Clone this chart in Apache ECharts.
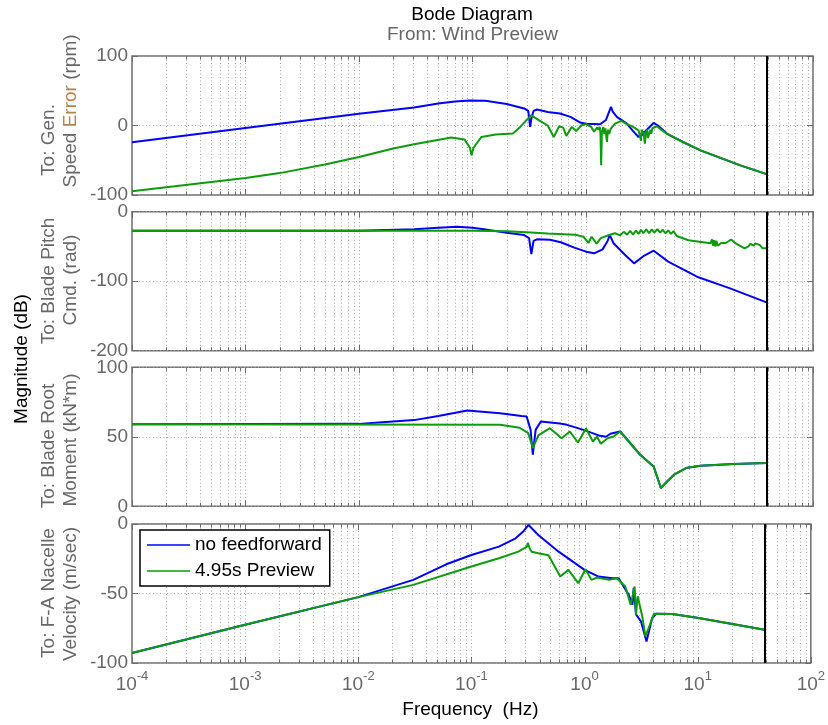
<!DOCTYPE html>
<html><head><meta charset="utf-8">
<script src="https://cdn.jsdelivr.net/npm/echarts@6/dist/echarts.min.js"></script>
<style>html,body{margin:0;padding:0;background:#fff}#chart{width:828px;height:725px}</style>
</head><body><div id="chart"></div>
<script>
// ---------------- data (frequency in Hz, magnitude in dB) ----------------
const seriesNames = ['no feedforward', '4.95s Preview'];
const nyquistHz = 39;
const freqDecades = [-4, -3, -2, -1, 0, 1, 2];

const genSpeedNoFF = [[1e-4,-24],[1e-3,-3.5],[1e-2,17],[0.0306,26],[0.05,31.5],[0.07,34.5],[0.094,36],[0.13,35.5],[0.2,31],[0.285,24.5],[0.31,21],[0.322,-2],[0.33,10],[0.345,21],[0.37,23],[0.46,19.5],[0.59,17.2],[0.73,12.4],[0.89,4.2],[1.0,2.5],[1.33,1.8],[1.5,8],[1.66,26.8],[1.72,20],[1.87,12.4],[2.29,2.8],[2.6,-8],[2.9,-16.5],[3.1,-14],[3.4,-6.9],[3.94,3.7],[4.3,0],[5.16,-11.6],[7,-23],[10.2,-35.7],[22.9,-57.4],[39,-70]];
const genSpeedFF = [[1e-4,-94.5],[1e-3,-75.7],[2e-3,-68.5],[5e-3,-56],[1e-2,-45.4],[0.02,-33],[0.0306,-27],[0.065,-17.4],[0.085,-20],[0.095,-32],[0.098,-43],[0.102,-32],[0.12,-16.5],[0.16,-13],[0.227,-11.6],[0.26,-3],[0.3,8],[0.33,14.8],[0.38,8],[0.46,0],[0.52,-16.5],[0.58,-1],[0.63,-3],[0.67,-15],[0.75,-2],[0.82,-8],[0.91,0.4],[1.0,2],[1.11,-2],[1.18,-9],[1.25,-3],[1.29,-6],[1.32,-2],[1.34,-10],[1.36,-57],[1.38,-10],[1.42,-2],[1.45,-12],[1.48,-4],[1.53,-23.7],[1.56,-6],[1.6,-12],[1.65,-4.9],[1.8,2.8],[2.05,6.6],[2.25,2.8],[2.6,-2],[2.9,-6.9],[3.0,-16],[3.05,-22],[3.1,-6],[3.15,-12],[3.2,-8],[3.3,-26],[3.38,-10],[3.45,-6],[3.52,-18],[3.6,-20],[3.68,-6],[3.75,-12],[3.85,-4],[4.2,-1.1],[5.16,-12],[7,-23],[10.2,-35.7],[22.9,-57.4],[39,-70]];

const pitchNoFF = [[1e-4,-27.3],[0.01,-27.3],[0.0306,-25.4],[0.05,-23],[0.073,-21.5],[0.1,-23],[0.126,-25.4],[0.2,-30.2],[0.285,-33.6],[0.315,-38],[0.33,-61],[0.345,-42],[0.37,-39.8],[0.48,-40.5],[0.6,-44],[0.8,-52],[1.0,-57.5],[1.18,-59.9],[1.4,-54.2],[1.55,-42],[1.62,-33.6],[1.75,-45.5],[2.2,-62],[2.65,-74.3],[3.2,-64],[3.95,-56.1],[5.3,-71.9],[9.5,-93.5],[18.6,-110.3],[39,-130.4]];
const pitchFF = [[1e-4,-27.3],[0.1,-27.3],[0.2,-28.2],[0.3,-29.5],[0.46,-31.2],[0.8,-33],[0.95,-36],[1.05,-45],[1.12,-36],[1.24,-46],[1.35,-38],[1.6,-33.6],[1.8,-31],[2.0,-34],[2.15,-29],[2.3,-33],[2.45,-27.5],[2.6,-33],[2.75,-27],[2.9,-32],[3.05,-26],[3.2,-31],[3.4,-25.5],[3.6,-31],[3.8,-25.5],[4.0,-30],[4.25,-25],[4.5,-30],[4.75,-26],[5.0,-31],[5.3,-27],[5.6,-32],[5.9,-28],[6.3,-35],[8,-41],[10,-43.1],[12.5,-45.5],[12.9,-40],[13.2,-49],[13.5,-41],[13.8,-50],[14.1,-42],[14.5,-49],[15.5,-45],[17,-45],[19,-40],[21,-46],[25,-52.7],[27,-50],[28,-46],[30,-49],[31,-45.5],[34,-48],[36,-52.7],[39,-52.7]];

const momentNoFF = [[1e-4,59.1],[0.01,59.3],[0.016,60.5],[0.0306,62],[0.05,65],[0.09,68.9],[0.175,67],[0.27,65],[0.3,64.6],[0.325,55],[0.34,37.1],[0.36,55],[0.4,61],[0.59,59.5],[0.68,58.6],[0.95,55],[1.33,50.7],[1.5,50],[1.64,52.2],[2.0,53.8],[3.0,37.1],[3.94,28.7],[4.57,13.2],[5.2,18],[5.97,22.7],[7.6,27.5],[10.2,29.2],[20,30.5],[39,31.1]];
const momentFF = [[1e-4,59.1],[0.175,58.6],[0.26,56.5],[0.31,52.6],[0.34,41.9],[0.38,51],[0.48,56.2],[0.61,49],[0.72,53.8],[0.85,45.9],[1.0,56],[1.15,46.6],[1.25,50.2],[1.35,45],[1.55,49],[1.75,50.2],[2.0,53.8],[3.0,37.1],[3.94,28.7],[4.57,13.2],[5.2,18],[5.97,22.7],[7.6,27.5],[10.2,29.2],[20,30.5],[39,31.1]];

const nacelleNoFF = [[1e-4,-92.8],[1e-3,-72.5],[1e-2,-52.6],[0.0306,-40.2],[0.06,-29],[0.1,-22.3],[0.175,-16.3],[0.246,-10.3],[0.29,-5],[0.32,-0.7],[0.35,-4],[0.39,-7.9],[0.59,-19.9],[1.0,-33],[1.33,-37.8],[1.75,-39],[2.0,-39],[2.46,-51],[2.65,-58],[2.72,-46],[2.85,-65],[3.15,-70],[3.53,-84.5],[3.96,-67.7],[4.3,-64.6],[5.97,-64.8],[10.2,-67.7],[39,-76]];
const nacelleFF = [[1e-4,-92.8],[1e-3,-72.5],[1e-2,-52.6],[0.0306,-43.8],[0.1,-30.6],[0.175,-24.6],[0.26,-19.9],[0.31,-16.3],[0.315,-13.5],[0.325,-17],[0.34,-19.9],[0.39,-21],[0.48,-22.5],[0.61,-37.8],[0.72,-33],[0.88,-42.6],[1.02,-32.5],[1.15,-40.2],[1.3,-38.5],[1.64,-40.2],[1.93,-39],[2.29,-45],[2.56,-58.2],[2.77,-45],[2.85,-65.3],[2.95,-52],[3.24,-66.5],[3.45,-80.9],[3.8,-72],[4.1,-64.6],[5.97,-64.8],[10.2,-67.7],[39,-76]];

const yMin = [-100, -200, 0, -100];
const yMax = [100, 0, 100, 0];
const yStep = [100, 100, 50, 50];
const panelLabels = [['To: Gen.', 'Speed Error (rpm)'], ['To: Blade Pitch', 'Cmd. (rad)'], ['To: Blade Root', 'Moment (kN*m)'], ['To: F-A Nacelle', 'Velocity (m/sec)']];
const titleText = 'Bode Diagram';
const subtitleText = 'From: Wind Preview';
const yTitle = 'Magnitude (dB)';
const xTitle = 'Frequency  (Hz)';

// ---------------- layout / style ----------------
const FONT = '"Liberation Sans", Arial, Helvetica, sans-serif';
const GRAY = '#686868';
const FRAME = '#6e6e6e';
const BLUE = '#0000ff';
const GREEN = '#0c9c0c';
const gridTops = [56, 211.7, 367.3, 524];
const gridH = 139;
const labelY = [[140, 111], [281, 280], [446, 440], [593, 594]];

const noFF = [genSpeedNoFF, pitchNoFF, momentNoFF, nacelleNoFF];
const withFF = [genSpeedFF, pitchFF, momentFF, nacelleFF];

const gridFreqs = [];
for (let i = 0; i < freqDecades.length - 1; i++) {
  for (let k = 1; k <= 9; k++) gridFreqs.push(k * Math.pow(10, freqDecades[i]));
}
gridFreqs.push(Math.pow(10, freqDecades[freqDecades.length - 1]));

function gridRender(params, api) {
  const cs = params.coordSys;
  const f = api.value(0);
  const x = Math.round(api.coord([f, api.value(1)])[0]) + 0.5;
  const lg = Math.log10(f);
  const major = Math.abs(lg - Math.round(lg)) < 1e-6;
  const top = cs.y, bot = cs.y + cs.height;
  const kids = [];
  if (x > cs.x + 2 && x < cs.x + cs.width - 2) {
    kids.push({type: 'line', shape: {x1: x, y1: top, x2: x, y2: bot},
      style: {stroke: '#a4a4a4', lineWidth: 1, lineDash: [1, 2.5]}});
  }
  const t = major ? 6 : 3.5;
  kids.push({type: 'line', shape: {x1: x, y1: top, x2: x, y2: top + t}, style: {stroke: FRAME, lineWidth: 1}});
  kids.push({type: 'line', shape: {x1: x, y1: bot, x2: x, y2: bot - t}, style: {stroke: FRAME, lineWidth: 1}});
  return {type: 'group', children: kids};
}

const grids = [], xAxes = [], yAxes = [], series = [];
for (let i = 0; i < 4; i++) {
  grids.push({left: 132, right: 15, top: gridTops[i], height: gridH, show: true,
    borderColor: FRAME, borderWidth: 1.5, backgroundColor: '#fff'});
  xAxes.push({type: 'log', logBase: 10, gridIndex: i, min: 1e-4, max: 100, splitNumber: 6,
    axisLine: {show: false}, axisTick: {show: false}, splitLine: {show: false},
    axisLabel: {show: i === 3, margin: 7, color: GRAY, showMinLabel: true, showMaxLabel: true, hideOverlap: false,
      formatter: v => '{b|10}{s|' + Math.round(Math.log10(v)) + '}',
      rich: {b: {fontSize: 19, fontFamily: FONT, color: GRAY, lineHeight: 30},
             s: {fontSize: 13, fontFamily: FONT, color: GRAY, lineHeight: 13, verticalAlign: 'top'}}}});
}
for (let i = 0; i < 4; i++) {
  yAxes.push({type: 'value', gridIndex: i, min: yMin[i], max: yMax[i], interval: yStep[i], position: 'left',
    axisLine: {show: false},
    axisTick: {show: true, inside: true, length: 6, lineStyle: {color: FRAME}},
    splitLine: {show: true, lineStyle: {color: '#a4a4a4', width: 1, type: [1, 2.5]}},
    axisLabel: {color: GRAY, fontSize: 19, fontFamily: FONT, margin: 4}});
}
for (let i = 0; i < 4; i++) {
  yAxes.push({type: 'value', gridIndex: i, min: yMin[i], max: yMax[i], interval: yStep[i], position: 'right',
    axisLine: {show: false}, axisLabel: {show: false}, splitLine: {show: false},
    axisTick: {show: true, inside: true, length: 6, lineStyle: {color: FRAME}}});
}
for (let i = 0; i < 4; i++) {
  series.push({type: 'custom', xAxisIndex: i, yAxisIndex: i, silent: true, z: 1,
    renderItem: gridRender, data: gridFreqs.map(f => [f, yMin[i]]), encode: {x: 0, y: 1}});
  series.push({type: 'line', name: seriesNames[0], xAxisIndex: i, yAxisIndex: i, data: noFF[i],
    symbol: 'none', smooth: false, z: 3, lineStyle: {color: BLUE, width: 2}, itemStyle: {color: BLUE}});
  series.push({type: 'line', name: seriesNames[1], xAxisIndex: i, yAxisIndex: i, data: withFF[i],
    symbol: 'none', smooth: false, z: 4, lineStyle: {color: GREEN, width: 2}, itemStyle: {color: GREEN},
    markLine: {silent: true, symbol: ['none', 'none'], label: {show: false}, animation: false,
      lineStyle: {color: '#000', width: 2, type: 'solid'}, data: [{xAxis: nyquistHz}]}});
}

const graphics = [
  {type: 'text', x: 472, y: 14.3, style: {text: titleText, fontSize: 19, fontFamily: FONT, fill: '#000', align: 'center', verticalAlign: 'middle'}},
  {type: 'text', x: 472.5, y: 35, style: {text: subtitleText, fontSize: 19, fontFamily: FONT, fill: GRAY, align: 'center', verticalAlign: 'middle'}},
  {type: 'text', x: 470.4, y: 710, style: {text: xTitle, fontSize: 19, fontFamily: FONT, fill: '#000', align: 'center', verticalAlign: 'middle'}},
  {type: 'text', x: 21.7, y: 359, rotation: Math.PI / 2, style: {text: yTitle, fontSize: 19, fontFamily: FONT, fill: '#000', align: 'center', verticalAlign: 'middle'}}
];
for (let i = 0; i < 4; i++) {
  const l2 = panelLabels[i][1];
  const l2style = (i === 0)
    ? {text: '{g|Speed }{o|Error}{g| (rpm)}', rich: {g: {fill: GRAY, fontSize: 19, fontFamily: FONT}, o: {fill: '#b8824a', fontSize: 19, fontFamily: FONT}}}
    : {text: l2};
  graphics.push({type: 'text', x: 48.5, y: labelY[i][0], rotation: Math.PI / 2,
    style: {text: panelLabels[i][0], fontSize: 19, fontFamily: FONT, fill: GRAY, align: 'center', verticalAlign: 'middle'}});
  graphics.push({type: 'text', x: 71, y: labelY[i][1], rotation: Math.PI / 2,
    style: Object.assign({fontSize: 19, fontFamily: FONT, fill: GRAY, align: 'center', verticalAlign: 'middle'}, l2style)});
}

const chart = echarts.init(document.getElementById('chart'), null, {renderer: 'canvas'});
chart.setOption({
  animation: false,
  backgroundColor: '#fff',
  textStyle: {fontFamily: FONT},
  grid: grids, xAxis: xAxes, yAxis: yAxes, series: series,
  legend: {data: seriesNames, left: 140, top: 530, orient: 'vertical', backgroundColor: '#fff',
    borderColor: '#000', borderWidth: 1.5, borderRadius: 0, padding: [4, 8, 4, 7], itemGap: 4,
    icon: 'rect', itemWidth: 43, itemHeight: 1.3, selectedMode: false, z: 10,
    textStyle: {fontSize: 19, color: '#000', fontFamily: FONT, lineHeight: 22}},
  graphic: graphics
});
</script></body></html>
